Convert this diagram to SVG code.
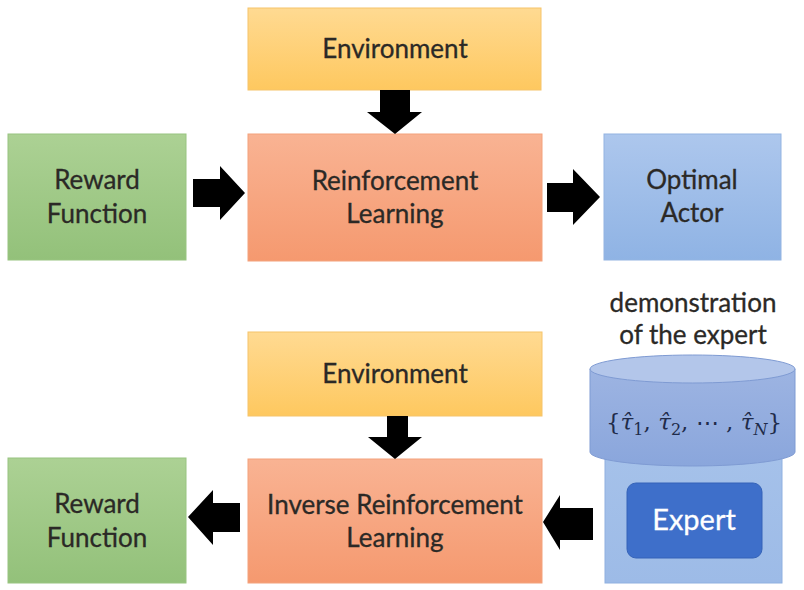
<svg xmlns="http://www.w3.org/2000/svg" width="804" height="590" viewBox="0 0 804 590">
<defs>
<linearGradient id="gEnv" x1="0" y1="0" x2="0" y2="1"><stop offset="0" stop-color="#ffda92"/><stop offset="1" stop-color="#fec85f"/></linearGradient>
<linearGradient id="gRL" x1="0" y1="0" x2="0" y2="1"><stop offset="0" stop-color="#f9b393"/><stop offset="1" stop-color="#f5996f"/></linearGradient>
<linearGradient id="gRew" x1="0" y1="0" x2="0" y2="1"><stop offset="0" stop-color="#acd194"/><stop offset="1" stop-color="#93c17a"/></linearGradient>
<linearGradient id="gAct" x1="0" y1="0" x2="0" y2="1"><stop offset="0" stop-color="#adc7ed"/><stop offset="1" stop-color="#8fb3e4"/></linearGradient>
<linearGradient id="gBase" x1="0" y1="0" x2="0" y2="1"><stop offset="0" stop-color="#a6c2ea"/><stop offset="1" stop-color="#9dbbe7"/></linearGradient>
<linearGradient id="gCyl" x1="0" y1="0" x2="0" y2="1"><stop offset="0" stop-color="#9db4e2"/><stop offset="1" stop-color="#8aa6dc"/></linearGradient>
</defs>
<style>
.t{font-family:Lato,"Open Sans","Liberation Sans",sans-serif;font-size:26px;fill:#2b2926;stroke:#2b2926;stroke-width:0.3;text-anchor:middle}
.env{fill:url(#gEnv);stroke:#f6c46a;stroke-width:1}
.rl{fill:url(#gRL);stroke:#f3a27c;stroke-width:1}
.rew{fill:url(#gRew);stroke:#98c480;stroke-width:1}
.act{fill:url(#gAct);stroke:#93b4e2;stroke-width:1}
.conn polygon{fill:#000}
.m{font-family:"DejaVu Serif",serif;font-style:italic;font-size:23px;fill:#1f2b4a;text-anchor:middle}
.up{font-style:normal}
.sub{font-size:16px}
</style>
<rect width="804" height="590" fill="#ffffff"/>

<g id="env1"><rect class="env" x="248" y="8" width="293" height="82"/><text class="t" x="395" y="58">Environment</text></g>
<g id="reward1"><rect class="rew" x="8" y="134" width="178" height="126"/><text class="t" x="97" y="189">Reward</text><text class="t" x="97" y="223">Function</text></g>
<g id="rl"><rect class="rl" x="248" y="134" width="294" height="127"/><text class="t" x="395" y="190">Reinforcement</text><text class="t" x="395" y="223">Learning</text></g>
<g id="actor"><rect class="act" x="604" y="134" width="177" height="126"/><text class="t" x="692" y="189">Optimal</text><text class="t" x="692" y="222">Actor</text></g>

<g id="env2"><rect class="env" x="248" y="332" width="294" height="84"/><text class="t" x="395" y="383">Environment</text></g>
<g id="irl"><rect class="rl" x="248" y="459" width="294" height="124"/><text class="t" x="395" y="514">Inverse Reinforcement</text><text class="t" x="395" y="547">Learning</text></g>
<g id="reward2"><rect class="rew" x="8" y="458" width="178" height="125"/><text class="t" x="97" y="513">Reward</text><text class="t" x="97" y="547">Function</text></g>

<g id="expert">
<text class="t" x="693" y="312">demonstration</text>
<text class="t" x="693" y="344">of the expert</text>
<rect x="605" y="440" width="177" height="143" fill="url(#gBase)" stroke="#8fb0e0" stroke-width="1"/>
<path d="M590,369 L590,452 A102.5,14 0 0 0 795,452 L795,369 Z" fill="url(#gCyl)" stroke="#7f9bd3" stroke-width="1"/>
<ellipse cx="692.5" cy="369" rx="102.5" ry="14" fill="#b3c6ea" stroke="#7f9bd3" stroke-width="1"/>
<text id="formula" class="m" x="694" y="430"><tspan class="up">{</tspan>τ̂<tspan class="up sub" dy="5">1</tspan><tspan class="up" dy="-5">, </tspan>τ̂<tspan class="up sub" dy="5">2</tspan><tspan class="up" dy="-5">, ⋯ , </tspan>τ̂<tspan class="sub" dy="5">N</tspan><tspan class="up" dy="-5">}</tspan></text>
<rect x="627" y="483" width="135" height="75" rx="9" fill="#3e6fca" stroke="#3563b8" stroke-width="1"/>
<text class="t" x="694" y="530" style="fill:#ffffff;stroke:#ffffff;font-size:29px">Expert</text>
</g>

<g id="connectors" class="conn">
<polygon points="380,90 410,90 410,112 422,112 395,134 367,112 380,112"/>
<polygon points="193,179 220,179 220,166 245,193 220,220 220,207 193,207"/>
<polygon points="547,183 573,183 573,169 600,197 573,225 573,212 547,212"/>
<polygon points="387,416 408,416 408,437 422,437 395,459 368,437 387,437"/>
<polygon points="593,508 593,540 560,540 560,550 543,522 560,495 560,508"/>
<polygon points="240,503 240,532 213,532 213,545 188,517 213,490 213,503"/>
</g>
</svg>
